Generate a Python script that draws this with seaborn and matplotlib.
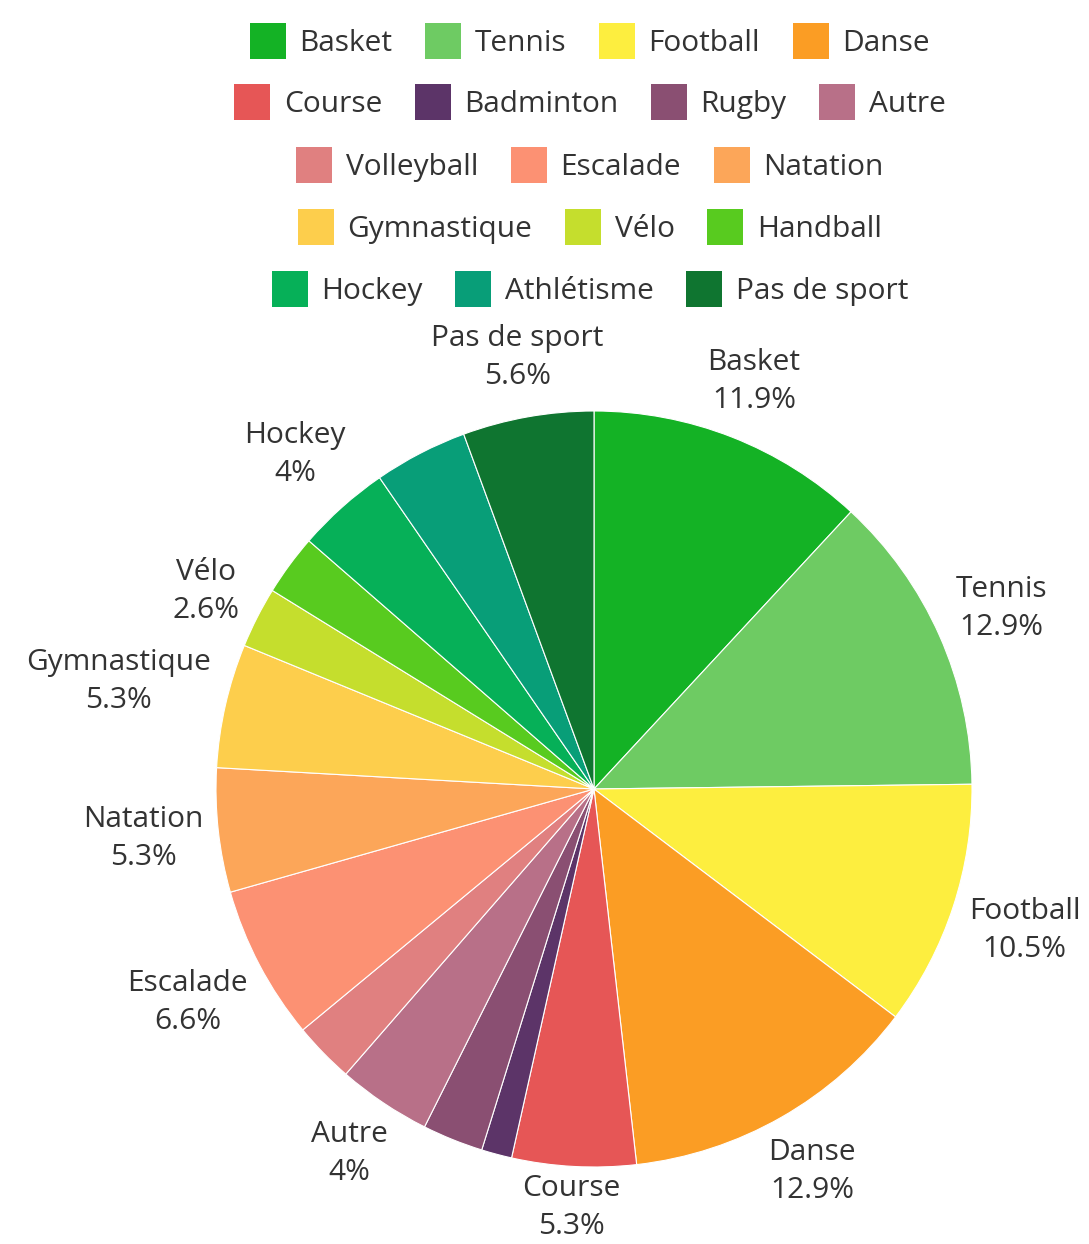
import matplotlib
matplotlib.use("Agg")
import matplotlib.pyplot as plt
import seaborn as sns
import numpy as np
from matplotlib.patches import Patch

# ---- data ----
sports = ["Basket", "Tennis", "Football", "Danse", "Course", "Badminton", "Rugby",
          "Autre", "Volleyball", "Escalade", "Natation", "Gymnastique", "Vélo",
          "Handball", "Hockey", "Athlétisme", "Pas de sport"]
percent = [11.9, 12.9, 10.5, 12.9, 5.3, 1.3, 2.6, 4.0, 2.6, 6.6, 5.3, 5.3, 2.6,
           2.6, 4.0, 4.0, 5.6]
colors = ["#14b225", "#6ecb63", "#fdee3f", "#fb9d24", "#e65656", "#5c3468", "#8a4f72",
          "#b87088", "#e08080", "#fc9173", "#fca659", "#fdce4c", "#c5de2d",
          "#58cb1f", "#06b058", "#089e78", "#0f7530"]
labeled = ["Basket", "Tennis", "Football", "Danse", "Course", "Autre", "Escalade",
           "Natation", "Gymnastique", "Vélo", "Hockey", "Pas de sport"]
legend_rows = [4, 4, 3, 3, 3]

# ---- style ----
sns.set_theme(style="white")
plt.rcParams["font.family"] = ["Open Sans", "DejaVu Sans"]
TXT = "#333333"
FS = 21.5

W, H = 1089, 1244
fig = plt.figure(figsize=(W / 100, H / 100), dpi=100)
ax = fig.add_axes([0, 0, 1, 1])

cx, cy, R = 594, H - 789, 378
wedges, _ = ax.pie(percent, colors=colors, startangle=90, counterclock=False,
                   center=(cx, cy), radius=R,
                   wedgeprops=dict(edgecolor="white", linewidth=0.8))
ax.set_xlim(0, W)
ax.set_ylim(0, H)
ax.set_aspect("auto")
ax.axis("off")

# ---- outside labels ----
renderer = fig.canvas.get_renderer()
cum = np.cumsum([0] + percent[:-1])
total = sum(percent)
gap = 12
for i, (name, p) in enumerate(zip(sports, percent)):
    if name not in labeled:
        continue
    mid = (cum[i] + p / 2) / total * 2 * np.pi
    s, c = np.sin(mid), np.cos(mid)
    t = ax.text(0, 0, f"{name}\n{p:g}%", ha="center", va="center",
                fontsize=FS, color=TXT, linespacing=1.4)
    bb = t.get_window_extent(renderer)
    w, h = bb.width, bb.height
    d = R + gap + abs(s) * w / 2 + abs(c) * h / 2
    x, y = cx + d * s, cy + d * c
    # keep the text inside the picture
    y = max(y, h / 2 + 3)
    x = min(max(x, w / 2 + 2), W - w / 2 - 2)
    t.set_position((x, y))

# ---- legend ----
row_y = [41, 102, 165, 227, 289]
start = 0
for n, y in zip(legend_rows, row_y):
    handles = [Patch(facecolor=colors[k], edgecolor="none", label=sports[k])
               for k in range(start, start + n)]
    start += n
    leg = fig.legend(handles=handles, loc="center", bbox_to_anchor=(590 / W, 1 - y / H),
                     ncol=n, frameon=False, fontsize=FS, handlelength=1.2,
                     handleheight=1.43, handletextpad=0.45, columnspacing=1.1,
                     borderpad=0, borderaxespad=0)
    for tx in leg.get_texts():
        tx.set_color(TXT)

fig.savefig("out.png", dpi=100)
